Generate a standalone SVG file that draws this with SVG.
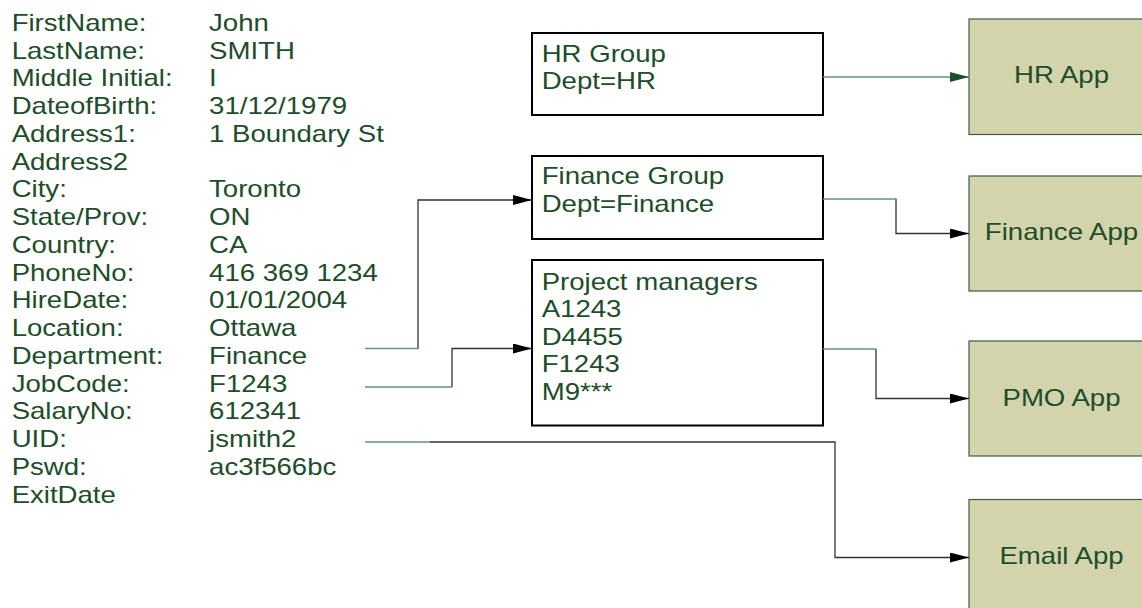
<svg xmlns="http://www.w3.org/2000/svg" width="1142" height="608" viewBox="0 0 1142 608">
<defs>
<style>
.t{font-family:"Liberation Sans",Arial,sans-serif;font-size:23px;fill:#1e4d2b}
.grp{fill:#fff;stroke:#000;stroke-width:2}
.app{fill:#d3d3ac;stroke:#3d5e45;stroke-width:1.2}
.cg{fill:none;stroke:#6b8f7b;stroke-width:1.3}
.ck{fill:none;stroke:#333;stroke-width:1.3}
</style>
<marker id="ak" markerUnits="userSpaceOnUse" markerWidth="20" markerHeight="12" refX="19" refY="5" orient="auto"><path d="M0,0 L19,5 L0,10 Z" fill="#000"/></marker>
<marker id="ag" markerUnits="userSpaceOnUse" markerWidth="20" markerHeight="12" refX="19" refY="5" orient="auto"><path d="M0,0 L19,5 L0,10 Z" fill="#1e4d2b"/></marker>
</defs>
<rect width="1142" height="608" fill="#fff"/>
<g id="record" transform="scale(1.2,1)">
<text class="t" x="9.7" y="31">FirstName:</text><text class="t" x="174.2" y="31">John</text>
<text class="t" x="9.7" y="58.75">LastName:</text><text class="t" x="174.2" y="58.75">SMITH</text>
<text class="t" x="9.7" y="86.5">Middle Initial:</text><text class="t" x="174.2" y="86.5">I</text>
<text class="t" x="9.7" y="114.25">DateofBirth:</text><text class="t" x="174.2" y="114.25">31/12/1979</text>
<text class="t" x="9.7" y="142">Address1:</text><text class="t" x="174.2" y="142">1 Boundary St</text>
<text class="t" x="9.7" y="169.75">Address2</text>
<text class="t" x="9.7" y="197.5">City:</text><text class="t" x="174.2" y="197.5">Toronto</text>
<text class="t" x="9.7" y="225.25">State/Prov:</text><text class="t" x="174.2" y="225.25">ON</text>
<text class="t" x="9.7" y="253">Country:</text><text class="t" x="174.2" y="253">CA</text>
<text class="t" x="9.7" y="280.75">PhoneNo:</text><text class="t" x="174.2" y="280.75">416 369 1234</text>
<text class="t" x="9.7" y="308.5">HireDate:</text><text class="t" x="174.2" y="308.5">01/01/2004</text>
<text class="t" x="9.7" y="336.25">Location:</text><text class="t" x="174.2" y="336.25">Ottawa</text>
<text class="t" x="9.7" y="364">Department:</text><text class="t" x="174.2" y="364">Finance</text>
<text class="t" x="9.7" y="391.75">JobCode:</text><text class="t" x="174.2" y="391.75">F1243</text>
<text class="t" x="9.7" y="419.5">SalaryNo:</text><text class="t" x="174.2" y="419.5">612341</text>
<text class="t" x="9.7" y="447.25">UID:</text><text class="t" x="174.2" y="447.25">jsmith2</text>
<text class="t" x="9.7" y="475">Pswd:</text><text class="t" x="174.2" y="475">ac3f566bc</text>
<text class="t" x="9.7" y="502.75">ExitDate</text>
</g>
<g id="hr-group">
<rect class="grp" x="532" y="33" width="291" height="82"/>
<g transform="scale(1.2,1)"><text class="t" x="451.4" y="62.3">HR Group</text><text class="t" x="451.4" y="89.3">Dept=HR</text></g>
</g>
<g id="finance-group">
<rect class="grp" x="532" y="156" width="291" height="83"/>
<g transform="scale(1.2,1)"><text class="t" x="451.4" y="184.5">Finance Group</text><text class="t" x="451.4" y="211.7">Dept=Finance</text></g>
</g>
<g id="pm-group">
<rect class="grp" x="532" y="260" width="291" height="165.5"/>
<g transform="scale(1.2,1)"><text class="t" x="451.4" y="290">Project managers</text><text class="t" x="451.4" y="317.5">A1243</text><text class="t" x="451.4" y="344.7">D4455</text><text class="t" x="451.4" y="372.3">F1243</text><text class="t" x="451.4" y="399.8">M9***</text></g>
</g>
<g id="hr-app"><rect class="app" x="969" y="19" width="184" height="115.5"/><g transform="scale(1.2,1)"><text class="t" x="884.6" y="83.5" text-anchor="middle">HR App</text></g></g>
<g id="finance-app"><rect class="app" x="969" y="176" width="184" height="115"/><g transform="scale(1.2,1)"><text class="t" x="884.6" y="240.5" text-anchor="middle">Finance App</text></g></g>
<g id="pmo-app"><rect class="app" x="969" y="341" width="184" height="115"/><g transform="scale(1.2,1)"><text class="t" x="884.6" y="406" text-anchor="middle">PMO App</text></g></g>
<g id="email-app"><rect class="app" x="969" y="499.5" width="184" height="120"/><g transform="scale(1.2,1)"><text class="t" x="884.6" y="564.5" text-anchor="middle">Email App</text></g></g>
<g id="connectors">
<path class="ck" d="M418,348.5 V200 H532" marker-end="url(#ak)"/>
<path class="cg" d="M365,348.5 H418.5"/>
<path class="ck" d="M452,387 V348.5 H532" marker-end="url(#ak)"/>
<path class="cg" d="M365,387 H452.5"/>
<path class="ck" d="M430,442 H835 V557.5 H969" marker-end="url(#ak)"/>
<path class="cg" d="M365,442 H430"/>
<path class="cg" d="M823,77 H969" marker-end="url(#ag)"/>
<path class="ck" d="M896,199 V233.5 H969" marker-end="url(#ak)"/>
<path class="cg" d="M823,199 H896.5"/>
<path class="ck" d="M876,349 V398.5 H969" marker-end="url(#ak)"/>
<path class="cg" d="M823,349 H876.5"/>
</g>
</svg>
